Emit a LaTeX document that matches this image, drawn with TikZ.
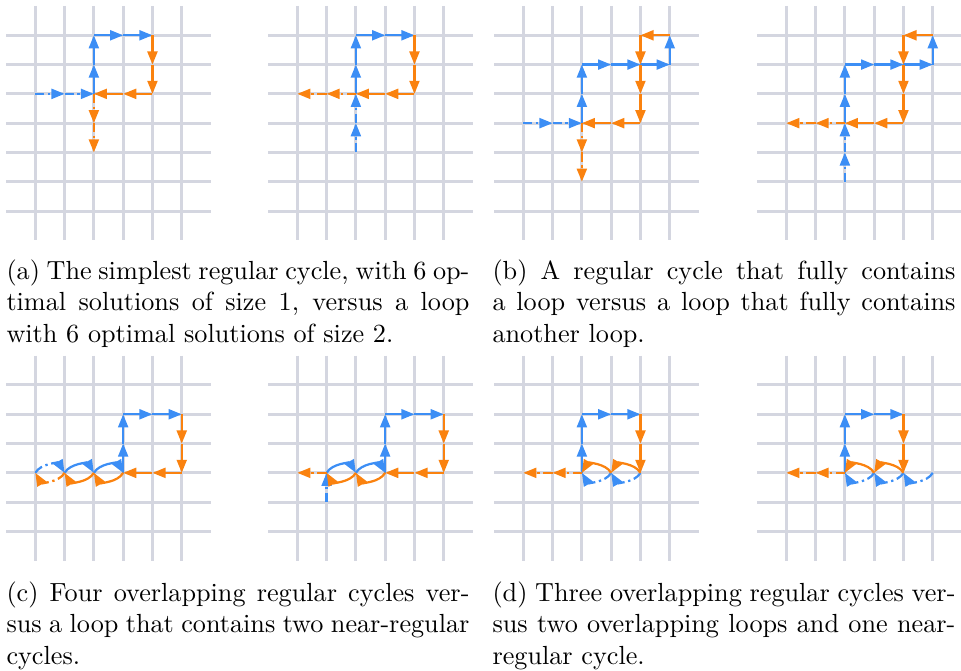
\documentclass[tikz,border=0pt]{standalone}
\usetikzlibrary{arrows.meta}
\definecolor{gridc}{RGB}{212,214,224}
\definecolor{bluec}{RGB}{60,142,245}
\definecolor{orc}{RGB}{250,130,15}
\tikzset{
  gridline/.style={draw=gridc, line width=1.15pt},
  arrowtip/.style={-{Triangle[length=5pt,width=3.8pt]}},
  bl/.style={draw=bluec, line width=0.85pt, arrowtip},
  og/.style={draw=orc, line width=0.85pt, arrowtip},
  dd/.style={dash pattern=on 3.5pt off 1.4pt on 0.9pt off 1.4pt},
  captext/.style={anchor=north west, inner sep=0pt, text width=176.7pt, align=justify, font=\fontsize{10}{12}\selectfont},
  panel/.style={x=11.18pt, y=-11.18pt}
}
\newcommand\walk[2]{\foreach \x/\y [remember=\x as \lx (initially X), remember=\y as \ly (initially X)] in {#2}{\if X\lx\else\draw[#1] (\lx,\ly) -- (\x,\y);\fi}}
\newcommand\gridtop{\foreach \i in {1,...,6} \draw[gridline] (\i,0) -- (\i,8);
  \foreach \j in {1,...,7} \draw[gridline] (0,\j) -- (7,\j);}
\newcommand\gridbot{\foreach \i in {1,...,6} \draw[gridline] (\i,0) -- (\i,7);
  \foreach \j in {1,...,6} \draw[gridline] (0,\j) -- (7,\j);}
% bend left: a rightward arc curves up, a leftward arc curves down
\newcommand\bendr[3]{\draw[#1] (#2,4) to[bend right=60] (#3,4);}
\newcommand\bendl[3]{\draw[#1] (#2,4) to[bend left=60] (#3,4);}
\begin{document}
\begin{tikzpicture}[x=0.3817pt, y=-0.3817pt]
\useasboundingbox (0,0) rectangle (961,671);
% (a) left
\begin{scope}[shift={(6,6)}, panel]
  \gridtop
  \walk{bl,dd}{1/3,2/3,3/3}
  \walk{bl}{3/3,3/2,3/1,4/1,5/1}
  \walk{og}{5/1,5/2,5/3,4/3,3/3}
  \walk{og,dd}{3/3,3/4,3/5}
\end{scope}
% (a) right
\begin{scope}[shift={(268,6)}, panel]
  \gridtop
  \walk{bl,dd}{3/5,3/4,3/3}
  \walk{bl}{3/3,3/2,3/1,4/1,5/1}
  \walk{og}{5/1,5/2,5/3,4/3,3/3}
  \walk{og,dd}{3/3,2/3,1/3}
\end{scope}
% (b) left
\begin{scope}[shift={(494,6)}, panel]
  \gridtop
  \walk{bl,dd}{1/4,2/4,3/4}
  \walk{bl}{3/4,3/3,3/2,4/2,5/2,6/2,6/1}
  \walk{og}{6/1,5/1,5/2,5/3,5/4,4/4,3/4}
  \walk{og,dd}{3/4,3/5,3/6}
\end{scope}
% (b) right
\begin{scope}[shift={(757,6)}, panel]
  \gridtop
  \walk{bl,dd}{3/6,3/5,3/4}
  \walk{bl}{3/4,3/3,3/2,4/2,5/2,6/2,6/1}
  \walk{og}{6/1,5/1,5/2,5/3,5/4,4/4,3/4}
  \walk{og,dd}{3/4,2/4,1/4}
\end{scope}
% (c) left
\begin{scope}[shift={(6,355.7)}, panel]
  \gridbot
  \bendl{bl,dd}{1}{2}
  \bendl{bl}{2}{3}
  \bendl{bl}{3}{4}
  \walk{bl}{4/4,4/3,4/2,5/2,6/2}
  \walk{og}{6/2,6/3,6/4,5/4,4/4}
  \bendl{og}{4}{3}
  \bendl{og}{3}{2}
  \bendl{og,dd}{2}{1}
\end{scope}
% (c) right
\begin{scope}[shift={(268,355.7)}, panel]
  \gridbot
  \walk{bl,dd}{2/5,2/4}
  \bendl{bl}{2}{3}
  \bendl{bl}{3}{4}
  \walk{bl}{4/4,4/3,4/2,5/2,6/2}
  \walk{og}{6/2,6/3,6/4,5/4,4/4}
  \bendl{og}{4}{3}
  \bendl{og}{3}{2}
  \walk{og,dd}{2/4,1/4}
\end{scope}
% (d) left
\begin{scope}[shift={(494,355.7)}, panel]
  \gridbot
  \bendl{bl,dd}{5}{4}
  \bendl{bl,dd}{4}{3}
  \walk{bl}{3/4,3/3,3/2,4/2,5/2}
  \walk{og}{5/2,5/3,5/4}
  \bendr{og}{5}{4}
  \bendr{og}{4}{3}
  \walk{og,dd}{3/4,2/4,1/4}
\end{scope}
% (d) right
\begin{scope}[shift={(757,355.7)}, panel]
  \gridbot
  \bendl{bl,dd}{6}{5}
  \bendl{bl,dd}{5}{4}
  \bendl{bl,dd}{4}{3}
  \walk{bl}{3/4,3/3,3/2,4/2,5/2}
  \walk{og}{5/2,5/3,5/4}
  \bendr{og}{5}{4}
  \bendr{og}{4}{3}
  \walk{og,dd}{3/4,2/4,1/4}
\end{scope}
% captions
\node[captext] (capa) at (6,259) {(a) The simplest regular cycle, with 6 op-\linebreak timal solutions of size 1, versus a loop\linebreak with 6 optimal solutions of size 2.};
\node[captext] (capb) at (492,259) {(b) A regular cycle that fully contains\linebreak a loop versus a loop that fully contains\linebreak another loop.};
\node[captext] (capc) at (6,581) {(c) Four overlapping regular cycles ver-\linebreak sus a loop that contains two near-regular\linebreak cycles.};
\node[captext] (capd) at (492,581) {(d) Three overlapping regular cycles ver-\linebreak sus two overlapping loops and one near-\linebreak regular cycle.};
\end{tikzpicture}
\end{document}
